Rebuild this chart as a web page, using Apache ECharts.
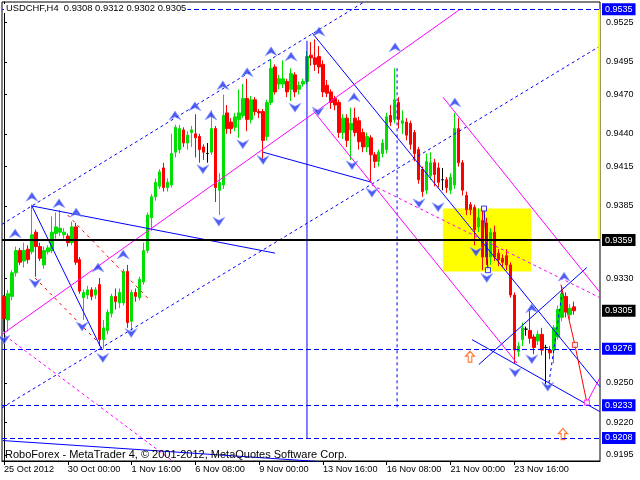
<!DOCTYPE html>
<html><head><meta charset="utf-8">
<script src="https://cdn.jsdelivr.net/npm/echarts@6/dist/echarts.min.js"></script>
<style>html,body{margin:0;padding:0;background:#fff}#c{width:640px;height:480px}</style>
</head><body><div id="c"></div>
<script>
// ---------- data ----------
const chartTitle = 'USDCHF,H4';
const lastQuote = '0.9308 0.9312 0.9302 0.9305';
const footerText = 'RoboForex - MetaTrader 4, \u00A9 2001-2012, MetaQuotes Software Corp.';
const xTickLabels = ['25 Oct 2012','30 Oct 00:00','1 Nov 16:00','6 Nov 08:00','9 Nov 00:00','13 Nov 16:00','16 Nov 08:00','21 Nov 00:00','23 Nov 16:00'];
const barsPerTick = 16;
const slotCount = 150;
const yTickValues = [0.9525,0.9495,0.9470,0.9440,0.9415,0.9385,0.9330,0.9250,0.9220,0.9195];
const blueLevels = [0.9535,0.9276,0.9233,0.9208];
const pivotLevel = 0.9359;
const bidLevel = 0.9305;

const opens = [
.9316,.9298,.9316,.9334,.9351,.9343,.9352,.9350,.9365,.9354,.9340,.9350,
.9351,.9364,.9365,.9363,.9362,.9357,.9369,.9344,.9315,.9317,.9321,.9317,
.9325,.9283,.9290,.9303,.9316,.9311,.9311,.9335,.9297,.9319,.9315,.9327,
.9351,.9376,.9392,.9400,.9414,.9399,.9401,.9426,.9428,.9443,.9433,.9441,
.9440,.9438,.9430,.9425,.9426,.9444,.9397,.9401,.9456,.9449,.9445,.9451,
.9454,.9467,.9451,.9466,.9457,.9457,.9438,.9464,.9491,.9478,.9478,.9480,
.9474,.9485,.9474,.9478,.9480,.9500,.9498,.9499,.9493,.9477,.9472,.9467,
.9464,.9441,.9452,.9443,.9452,.9450,.9441,.9430,.9437,.9424,.9419,.9425,
.9428,.9454,.9451,.9464,.9448,.9449,.9448,.9441,.9428,.9413,.9397,.9408,
.9418,.9414,.9405,.9405,.9397,.9401,.9444,.9418,.9393,.9386,.9384,.9369,
.9374,.9372,.9346,.9365,.9349,.9345,.9347,.9340,.9317,.9274,.9283,.9291,
.9290,.9285,.9282,.9287,.9277,.9275,.9275,.9285,.9300,.9316,.9302,.9308];
const closes = [
.9299,.9318,.9334,.9351,.9342,.9351,.9344,.9363,.9354,.9345,.9351,.9353,
.9365,.9369,.9368,.9365,.9357,.9369,.9342,.9320,.9319,.9321,.9316,.9321,
.9283,.9292,.9304,.9316,.9312,.9319,.9335,.9296,.9319,.9316,.9329,.9351,
.9378,.9392,.9403,.9411,.9399,.9403,.9425,.9445,.9444,.9433,.9439,.9443,
.9437,.9428,.9426,.9425,.9444,.9399,.9403,.9454,.9444,.9444,.9453,.9456,
.9467,.9451,.9466,.9457,.9456,.9435,.9464,.9490,.9472,.9482,.9482,.9472,
.9486,.9472,.9477,.9480,.9499,.9498,.9493,.9491,.9472,.9471,.9464,.9462,
.9441,.9452,.9435,.9448,.9441,.9434,.9430,.9438,.9424,.9419,.9426,.9433,
.9453,.9449,.9466,.9451,.9450,.9439,.9432,.9425,.9405,.9396,.9419,.9418,
.9409,.9403,.9405,.9399,.9407,.9444,.9418,.9397,.9382,.9382,.9367,.9376,
.9346,.9346,.9365,.9346,.9344,.9342,.9340,.9317,.9275,.9278,.9292,.9291,
.9284,.9277,.9287,.9275,.9277,.9273,.9292,.9306,.9318,.9304,.9307,.9305];
const highs = [
.9317,.9321,.9336,.9354,.9353,.9357,.9355,.9386,.9367,.9357,.9354,.9355,
.9377,.9380,.9382,.9368,.9364,.9373,.9372,.9346,.9321,.9324,.9323,.9323,
.9330,.9298,.9306,.9318,.9322,.9322,.9337,.9340,.9321,.9322,.9331,.9357,
.9380,.9394,.9406,.9413,.9418,.9406,.9440,.9447,.9447,.9445,.9442,.9446,
.9455,.9440,.9432,.9433,.9458,.9446,.9410,.9470,.9462,.9452,.9456,.9474,
.9478,.9482,.9469,.9468,.9459,.9459,.9466,.9497,.9493,.9485,.9496,.9482,
.9490,.9487,.9480,.9482,.9503,.9510,.9512,.9507,.9496,.9481,.9474,.9469,
.9466,.9455,.9455,.9460,.9460,.9453,.9444,.9441,.9439,.9426,.9428,.9436,
.9456,.9462,.9490,.9468,.9458,.9452,.9450,.9443,.9430,.9415,.9425,.9426,
.9421,.9418,.9414,.9407,.9410,.9456,.9452,.9420,.9396,.9388,.9386,.9383,
.9382,.9376,.9368,.9370,.9352,.9348,.9352,.9342,.9319,.9281,.9296,.9293,
.9306,.9287,.9290,.9292,.9279,.9278,.9294,.9309,.9324,.9319,.9310,.9312];
const lows = [
.9289,.9289,.9313,.9331,.9340,.9338,.9341,.9348,.9331,.9343,.9337,.9348,
.9349,.9360,.9362,.9360,.9354,.9355,.9340,.9318,.9298,.9314,.9313,.9314,
.9278,.9276,.9287,.9300,.9306,.9307,.9309,.9292,.9290,.9312,.9313,.9325,
.9349,.9366,.9389,.9398,.9396,.9396,.9399,.9422,.9425,.9430,.9428,.9430,
.9422,.9418,.9420,.9418,.9424,.9388,.9378,.9398,.9440,.9440,.9442,.9437,
.9452,.9442,.9448,.9454,.9452,.9420,.9435,.9462,.9470,.9474,.9475,.9468,
.9465,.9468,.9470,.9476,.9478,.9492,.9488,.9486,.9468,.9468,.9459,.9458,
.9437,.9436,.9430,.9420,.9438,.9428,.9426,.9426,.9403,.9414,.9415,.9422,
.9425,.9446,.9448,.9444,.9440,.9435,.9428,.9419,.9402,.9392,.9394,.9405,
.9400,.9399,.9397,.9395,.9394,.9398,.9415,.9393,.9378,.9378,.9355,.9365,
.9336,.9340,.9340,.9343,.9339,.9338,.9336,.9315,.9265,.9270,.9278,.9286,
.9280,.9272,.9279,.9271,.9249,.9268,.9265,.9283,.9297,.9300,.9298,.9302];

// drawn objects, as [bar index, price]
const yellowZone = [[110.1,0.9383],[132.2,0.9335]];
const blueSolidLines = [
  [[7.0,0.9385],[68.0,0.9349]],
  [[7.0,0.9385],[24.6,0.9275]],
  [[65.0,0.9426],[92.3,0.9403]],
  [[77.3,0.9517],[149.5,0.9247]],
  [[-0.3,0.9206],[78.8,0.9190]],
  [[117.4,0.9283],[149.5,0.9228]],
  [[119.1,0.9264],[146.2,0.9338]],
  [[120.4,0.9383],[121.4,0.9336]],
  [[76.0,0.9511],[76.0,0.9208]]
];
const blueDashedLines = [
  [[-0.5,0.9371],[90.0,0.9540]],
  [[-0.5,0.9231],[149.5,0.9507]],
  [[136.7,0.9250],[140.2,0.9323]],
  [[98.6,0.9490],[98.6,0.9230]]
];
const magentaSolidLines = [
  [[-0.5,0.9287],[114.4,0.9535]],
  [[77.5,0.9458],[128.7,0.9265]],
  [[110.1,0.9468],[149.5,0.9319]],
  [[146.2,0.9235],[149.5,0.9254]]
];
const magentaDashedLines = [
  [[0.25,0.9286],[42.9,0.9189]],
  [[92.3,0.9401],[149.5,0.9315]]
];
const redDashedLines = [
  [[16.0,0.9378],[36.6,0.9313]],
  [[7.8,0.9330],[23.6,0.9281]]
];
const redForecast = [[139.7,0.9325],[143.2,0.9279],[146.2,0.9235]];
const yellowEdge = [[149.3,0.9535],[149.3,0.9359]];
const upArrows = [
[2.8,0.9364],[7.0,0.9392],[13.8,0.9387],[18.1,0.9380],[23.6,0.9338],[29.9,0.9348],
[42.9,0.9454],[47.9,0.9461],[51.9,0.9454],[54.9,0.9477],[61.0,0.9487],[67.0,0.9503],
[72.0,0.9499],[79.0,0.9518],[87.8,0.9468],[98.1,0.9506],[113.1,0.9464],[132.4,0.9307],[140.5,0.9331]];
const downArrows = [
[0.0,0.9283],[7.8,0.9326],[19.6,0.9293],[24.8,0.9269],[31.9,0.9288],[49.9,0.9413],
[53.9,0.9373],[59.9,0.9432],[65.0,0.9420],[73.0,0.9460],[78.8,0.9457],[87.3,0.9416],
[92.3,0.9395],[104.1,0.9387],[108.9,0.9384],[118.4,0.9350],[121.1,0.9330],[128.2,0.9258],
[132.4,0.9268],[136.4,0.9247]];
const orangeArrows = [[116.9,0.9270],[140.2,0.9211]];
const blueSquares = [[120.4,0.9383],[121.4,0.9336]];
const redSquares = [[143.2,0.9279]];
const magentaSquares = [[146.2,0.9235]];

// ---------- chart ----------
const FONT = 'Liberation Sans';
const categories = [];
for (let i = 0; i < slotCount; i++) {
  categories.push(i % barsPerTick === 0 && i / barsPerTick < xTickLabels.length ? xTickLabels[i / barsPerTick] : '');
}
const showTick = (idx) => idx % barsPerTick === 0 && idx / barsPerTick < xTickLabels.length;
const candles = opens.map((o, i) => [o, closes[i], lows[i], highs[i]]);

function lineSeries(points, color, width, type, z) {
  return { type: 'line', xAxisIndex: 1, yAxisIndex: 0, data: points, symbol: 'none', silent: true,
    animation: false, clip: true, z: z || 3, lineStyle: { color: color, width: width, type: type } };
}
function scatterSeries(points, symbol, size, style, z) {
  return { type: 'scatter', xAxisIndex: 1, yAxisIndex: 0, data: points, symbol: symbol, symbolSize: size,
    silent: true, animation: false, z: z || 4, itemStyle: style };
}

const series = [];
series.push({
  type: 'line', xAxisIndex: 1, yAxisIndex: 0, data: yellowZone, symbol: 'none', silent: true, animation: false,
  lineStyle: { opacity: 0 }, z: 1,
  markArea: { silent: true, animation: false, z: 1, itemStyle: { color: '#ffff00', opacity: 1 },
    data: [[{ coord: yellowZone[0] }, { coord: yellowZone[1] }]] }
});
series.push({
  type: 'candlestick', xAxisIndex: 0, yAxisIndex: 0, data: candles, barWidth: 3, z: 2, animation: false, silent: true,
  itemStyle: { color: '#00e000', color0: '#ff0000', borderColor: '#00e000', borderColor0: '#ff0000',
    borderColorDoji: '#000000', borderWidth: 1 },
  markLine: {
    symbol: ['none', 'none'], silent: true, animation: false, z: 5, precision: 4,
    label: { show: true, position: 'end', distance: 2, color: '#fff', fontSize: 9, fontFamily: FONT,
      padding: [2, 3, 1, 3], formatter: (p) => Number(p.value).toFixed(4) },
    data: blueLevels.map(v => ({ yAxis: v, lineStyle: { color: '#0000ff', width: 1, type: [5, 3] },
        label: { backgroundColor: '#0000ff' } }))
      .concat([
        { yAxis: pivotLevel, lineStyle: { color: '#000', width: 2, type: 'solid' }, label: { backgroundColor: '#000' } },
        { yAxis: bidLevel, lineStyle: { color: 'rgba(0,0,0,0)', width: 1 }, label: { backgroundColor: '#000' } }
      ])
  }
});
blueSolidLines.forEach(l => series.push(lineSeries(l, '#0000ff', 1, 'solid')));
blueDashedLines.forEach(l => series.push(lineSeries(l, '#0000ff', 1, [3, 3])));
magentaSolidLines.forEach(l => series.push(lineSeries(l, '#ff00ff', 1, 'solid')));
magentaDashedLines.forEach(l => series.push(lineSeries(l, '#ff00ff', 1, [3, 3])));
redDashedLines.forEach(l => series.push(lineSeries(l, '#ff0000', 1, [3, 4])));
series.push(lineSeries(redForecast, '#ff0000', 1, 'solid'));
series.push(lineSeries(yellowEdge, '#ffff00', 2, 'solid'));

const upPath = 'path://M6,0 L12,10 L6,6.5 L0,10 Z';
const downPath = 'path://M0,0 L6,3.5 L12,0 L6,10 Z';
const hollowUp = 'path://M5,0 L10,5 L7,5 L7,11 L3,11 L3,5 L0,5 Z';
series.push(scatterSeries(upArrows, upPath, [12, 9], { color: '#2035f0', borderColor: '#9aa8ff', borderWidth: 0.8 }));
series.push(scatterSeries(downArrows, downPath, [12, 9], { color: '#2035f0', borderColor: '#9aa8ff', borderWidth: 0.8 }));
series.push(scatterSeries(orangeArrows, hollowUp, [9, 11], { color: '#ffffff', borderColor: '#ff5a00', borderWidth: 1.2 }));
series.push(scatterSeries(blueSquares, 'rect', 5, { color: '#ffffff', borderColor: '#0000ff', borderWidth: 1 }, 5));
series.push(scatterSeries(redSquares, 'rect', 5, { color: '#ffffff', borderColor: '#ff0000', borderWidth: 1 }, 5));
series.push(scatterSeries(magentaSquares, 'rect', 5, { color: '#ffffff', borderColor: '#ff00ff', borderWidth: 1 }, 5));

const chart = echarts.init(document.getElementById('c'), null, { renderer: 'canvas' });
chart.setOption({
  animation: false,
  backgroundColor: '#ffffff',
  grid: { left: 2, right: 40, top: 2, bottom: 19, show: true, borderColor: '#000', borderWidth: 1, backgroundColor: '#fff' },
  xAxis: [
    { type: 'category', data: categories, boundaryGap: true, gridIndex: 0,
      axisLine: { show: true, lineStyle: { color: '#000', width: 1 } },
      axisTick: { show: true, alignWithLabel: true, interval: (i) => showTick(i), length: 4, lineStyle: { color: '#000' } },
      axisLabel: { show: true, interval: (i) => showTick(i), align: 'left', margin: 4, color: '#000',
        fontSize: 9.2, fontFamily: FONT },
      splitLine: { show: false } },
    { type: 'value', min: -0.5, max: slotCount - 0.5, show: false, gridIndex: 0, splitLine: { show: false } }
  ],
  yAxis: [{
    type: 'value', position: 'right', min: 0.91904, max: 0.95406, scale: true,
    axisLine: { show: true, lineStyle: { color: '#000' } },
    axisTick: { show: true, customValues: yTickValues, length: 3, lineStyle: { color: '#000' } },
    axisLabel: { show: true, customValues: yTickValues, margin: 6, color: '#000', fontSize: 9, fontFamily: FONT,
      formatter: (v) => Number(v).toFixed(4) },
    splitLine: { show: false }
  }],
  graphic: [
    { type: 'text', left: 4, top: 4, z: 100,
      style: { text: chartTitle + '  ' + lastQuote, font: '9.4px "Liberation Sans"', fill: '#000',
        backgroundColor: '#fff', padding: [0, 1, 0, 2] } },
    { type: 'text', left: 5, top: 449, z: 100,
      style: { text: footerText, font: '11px "Liberation Sans"', fill: '#000' } }
  ],
  series: series
});
</script></body></html>
